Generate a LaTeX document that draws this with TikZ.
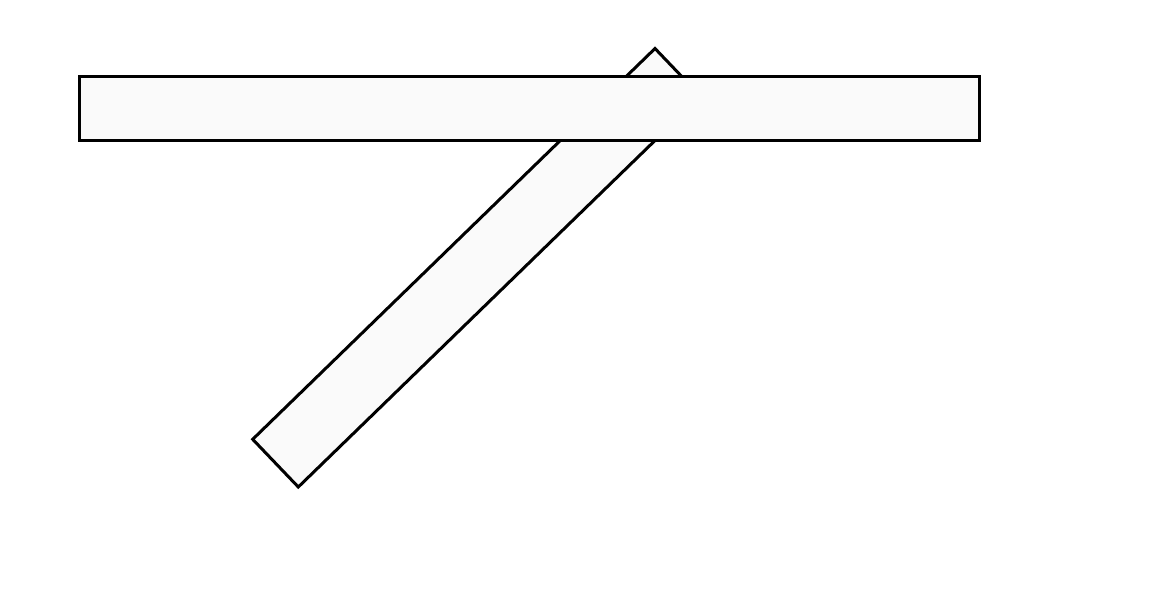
\documentclass[tikz,border=0pt]{standalone}
\begin{document}
\begin{tikzpicture}[x=1pt,y=-1pt,
  bar/.style={draw=black,fill=black!2,line width=3pt,line join=miter}]
\useasboundingbox (0,0) rectangle (1162,614);
\coordinate (a) at (655,48.5);
\coordinate (b) at (252.7,439.3);
\coordinate (c) at (298.3,487);
\coordinate (d) at (700.6,96.2);
\draw[bar] (a) -- (b) -- (c) -- (d) -- cycle;
\draw[bar] (79,76) rectangle (979,140.5);
\end{tikzpicture}
\end{document}
